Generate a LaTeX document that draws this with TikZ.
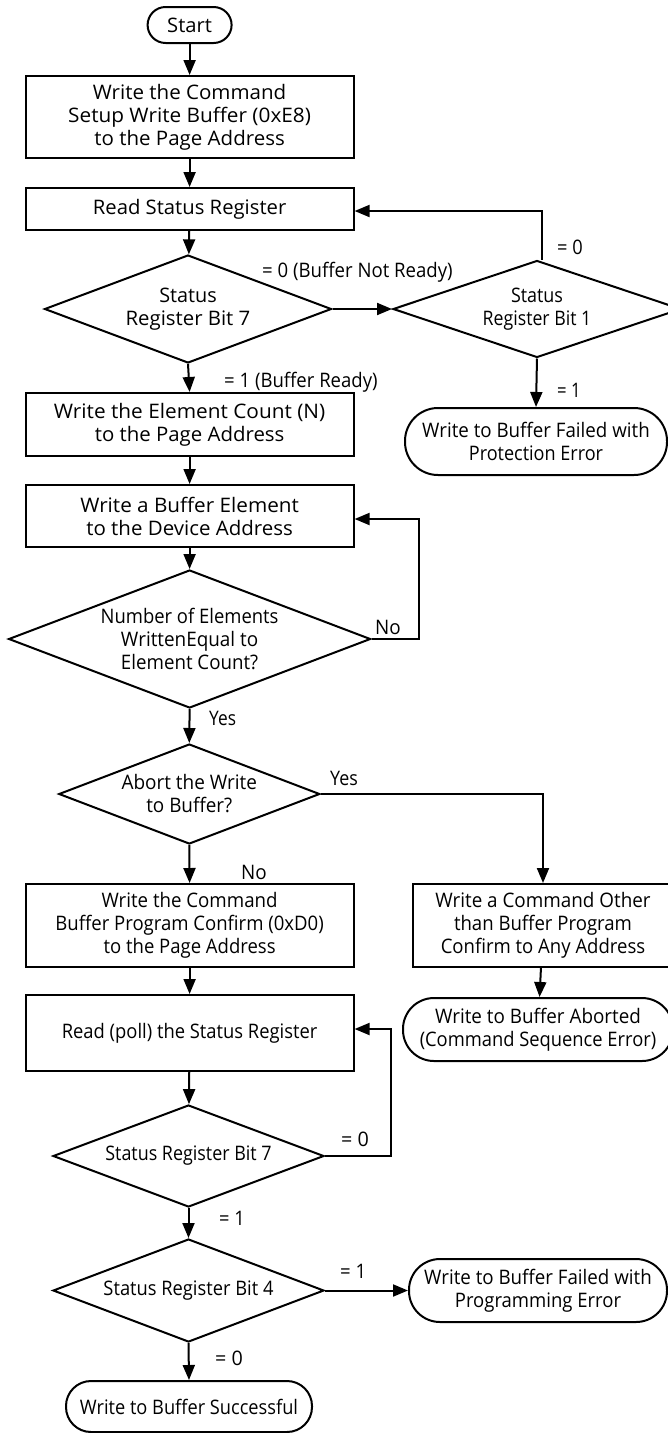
\documentclass[tikz,border=0pt]{standalone}
\usepackage{fontspec}
\usepackage{graphicx}
\setmainfont{Open Sans}
\usetikzlibrary{arrows.meta,shapes.geometric}
\newcommand\sqz[2]{\resizebox{#1pt}{\height}{#2}}
\begin{document}
\begin{tikzpicture}[x=1pt,y=-1pt,
  every node/.style={font=\fontsize{20}{23}\selectfont, align=center},
  line/.style={line width=2pt, -{Triangle[length=15pt,width=12pt]}},
  procbox/.style={draw, line width=2pt, rectangle, inner sep=0pt},
  termbox/.style={draw, line width=2pt, rectangle, rounded corners=#1, inner sep=0pt},
  dia/.style={draw, line width=2pt, diamond, shape aspect=2.6, inner sep=0pt},
  lbl/.style={anchor=west, inner sep=0pt}
]
\useasboundingbox (0,0) rectangle (668,1433);

% main column
\node[termbox=18pt, minimum width=84pt, minimum height=36pt] (start) at (189.6,25) {\sqz{44.8}{Start}};
\node[procbox, minimum width=328pt, minimum height=82pt] (b1) at (189.6,117)
  {\sqz{193.4}{Write the Command}\\\sqz{242.8}{Setup Write Buffer (0xE8)}\\\sqz{190.4}{to the Page Address}};
\node[procbox, minimum width=328pt, minimum height=42pt] (b2) at (189.6,209) {\sqz{193.4}{Read Status Register}};
\node[dia, minimum width=287pt, minimum height=108pt] (d1) at (188,309)
  {\sqz{57.5}{Status}\\\sqz{124.8}{Register Bit 7}};
\node[dia, minimum width=288pt, minimum height=97pt] (d2) at (537,309)
  {\sqz{52}{Status}\\\sqz{108.6}{Register Bit 1}};
\node[termbox=33pt, minimum width=262pt, minimum height=67pt] (tp) at (536,441.5)
  {\sqz{227.5}{Write to Buffer Failed with}\\\sqz{134.2}{Protection Error}};
\node[procbox, minimum width=328pt, minimum height=63pt] (b3) at (189.6,424.5)
  {\sqz{271.4}{Write the Element Count (N)}\\\sqz{189.6}{to the Page Address}};
\node[procbox, minimum width=328pt, minimum height=62pt] (b4) at (189.6,516)
  {\sqz{218.6}{Write a Buffer Element}\\\sqz{206.6}{to the Device Address}};
\node[dia, minimum width=362pt, minimum height=138pt] (d3) at (189.6,639)
  {\sqz{177.7}{Number of Elements}\\\sqz{137.2}{WrittenEqual to}\\\sqz{137.2}{Element Count?}};
\node[dia, minimum width=261pt, minimum height=100pt] (d4) at (189.3,794)
  {\sqz{135.5}{Abort the Write}\\\sqz{86}{to Buffer?}};
\node[procbox, minimum width=328pt, minimum height=83pt] (b5) at (189.6,925.5)
  {\sqz{176}{Write the Command}\\\sqz{268.4}{Buffer Program Confirm (0xD0)}\\\sqz{172}{to the Page Address}};
\node[procbox, minimum width=260pt, minimum height=83pt] (b6) at (543,925.5)
  {\sqz{215.2}{Write a Command Other}\\\sqz{178}{than Buffer Program}\\\sqz{204.5}{Confirm to Any Address}};
\node[termbox=31pt, minimum width=270pt, minimum height=63pt] (ta) at (538,1029.5)
  {\sqz{205.8}{Write to Buffer Aborted}\\\sqz{236.5}{(Command Sequence Error)}};
\node[procbox, minimum width=328pt, minimum height=76pt] (b7) at (189.6,1033)
  {\sqz{255.6}{Read (poll) the Status Register}};
\node[dia, minimum width=271pt, minimum height=102pt] (d5) at (188.5,1156) {\sqz{166.2}{Status Register Bit 7}};
\node[dia, minimum width=271pt, minimum height=103pt] (d6) at (188.5,1290.5) {\sqz{170}{Status Register Bit 4}};
\node[termbox=31pt, minimum width=258pt, minimum height=63pt] (tg) at (538,1290.5)
  {\sqz{227.5}{Write to Buffer Failed with}\\\sqz{166.2}{Programming Error}};
\node[termbox=25pt, minimum width=246pt, minimum height=51pt] (ts) at (189,1406.5) {\sqz{218.1}{Write to Buffer Successful}};

% connector helper coordinates
\coordinate (c3) at (419,639);
\coordinate (c5) at (391,1156);

% connectors
\draw[line] (start) -- (b1);
\draw[line] (b1) -- (b2);
\draw[line] (b2) -- (d1);
\draw[line] (d1.east) -- (d2.west);
\draw[line] ([xshift=5pt]d2.north) |- ([yshift=-2pt]b2.east);
\draw[line] (d2.south) -- (tp.north);
\draw[line] (d1.south) -- (b3.north);
\draw[line] (b3) -- (b4);
\draw[line] (b4) -- (d3);
\draw[line] (d3.east) -- (c3) |- ([yshift=-3pt]b4.east);
\draw[line] (d3.south) -- (d4.north);
\draw[line] (d4.east) -| (b6.north);
\draw[line] (d4.south) -- (b5.north);
\draw[line] (b5) -- (b7);
\draw[line] (b6) -- (ta);
\draw[line] (b7) -- (d5);
\draw[line] (d5.east) -- (c5) |- ([yshift=4pt]b7.east);
\draw[line] (d5.south) -- (d6.north);
\draw[line] (d6.east) -- (tg.west);
\draw[line] (d6.south) -- (ts.north);

% labels
\node[lbl] (l1) at (262,272) {\sqz{190.5}{= 0 (Buffer Not Ready)}};
\node[lbl] (l2) at (557,247) {\sqz{25.6}{= 0}};
\node[lbl] (l3) at (557,390) {\sqz{23.4}{= 1}};
\node[lbl] (l4) at (224,382) {\sqz{153.4}{= 1 (Buffer Ready)}};
\node[lbl] (l5) at (375,627) {\sqz{25.6}{No}};
\node[lbl] (l6) at (209,718) {\sqz{26.8}{Yes}};
\node[lbl] (l7) at (330,778) {\sqz{27.7}{Yes}};
\node[lbl] (l8) at (241,872) {\sqz{25.6}{No}};
\node[lbl] (l9) at (341,1139) {\sqz{27.7}{= 0}};
\node[lbl] (l10) at (219,1218) {\sqz{25.6}{= 1}};
\node[lbl] (l11) at (340,1271) {\sqz{26}{= 1}};
\node[lbl] (l12) at (215,1358) {\sqz{27.7}{= 0}};
\end{tikzpicture}
\end{document}
